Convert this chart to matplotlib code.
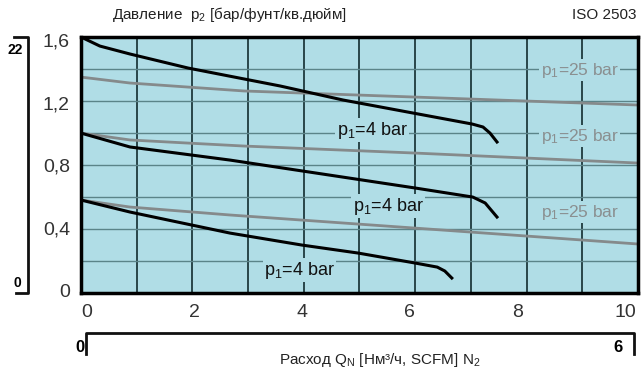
import numpy as np
import matplotlib.pyplot as plt
from matplotlib.lines import Line2D

# === DATA ===
flow_ticks = [0, 2, 4, 6, 8, 10]
pressure_ticks = [0, 0.4, 0.8, 1.2, 1.6]
pressure_labels = ['0', '0,4', '0,8', '1,2', '1,6']

# p1 = 4 bar curves (black)
hi4_q = [-0.11, 0.24, 0.80, 1.88, 2.92, 3.59, 4.76, 7.16, 7.36, 7.49, 7.62]
hi4_p = [1.622, 1.564, 1.513, 1.423, 1.353, 1.308, 1.218, 1.064, 1.045, 1.006, 0.949]
mid4_q = [-0.11, 0.80, 2.66, 6.10, 7.17, 7.40, 7.62]
mid4_p = [1.006, 0.917, 0.833, 0.654, 0.596, 0.558, 0.468]
low4_q = [-0.11, 0.80, 2.66, 4.00, 5.04, 6.10, 6.51, 6.65, 6.78]
low4_p = [0.577, 0.500, 0.365, 0.288, 0.237, 0.173, 0.147, 0.122, 0.077]

# p1 = 25 bar curves (grey)
hi25_q = [-0.11, 0.80, 1.88, 2.92, 10.24]
hi25_p = [1.365, 1.327, 1.301, 1.276, 1.186]
mid25_q = [-0.11, 0.80, 1.88, 2.92, 6.10, 10.24]
mid25_p = [1.006, 0.962, 0.942, 0.923, 0.878, 0.814]
low25_q = [-0.11, 0.80, 2.66, 6.10, 10.24]
low25_p = [0.577, 0.532, 0.481, 0.397, 0.295]

# curve labels: (q, p, text)
labels4 = [(5.3, 1.025, 'p$_1$=4 bar'), (5.6, 0.538, 'p$_1$=4 bar'), (3.95, 0.128, 'p$_1$=4 bar')]
labels25 = [(9.16, 1.41, 'p$_1$=25 bar'), (9.16, 0.985, 'p$_1$=25 bar'), (9.16, 0.50, 'p$_1$=25 bar')]

# === STYLE ===
sans = ['Liberation Sans', 'DejaVu Sans']
plt.rcParams['mathtext.fontset'] = 'custom'
plt.rcParams['mathtext.rm'] = 'Liberation Sans'
plt.rcParams['mathtext.it'] = 'Liberation Sans'
bg = '#b0dde6'
W, H = 643, 378

fig = plt.figure(figsize=(W / 100, H / 100), dpi=100)
ax = fig.add_axes([81 / W, 1 - 293 / H, (638 - 81) / W, (293 - 37) / H])
ax.set_facecolor(bg)
ax.set_xlim(-0.11, 10.24)
ax.set_ylim(-0.019, 1.622)

# grid splits the box evenly, independent of the label scale
xl, yl = ax.get_xlim(), ax.get_ylim()
for gx in np.linspace(xl[0], xl[1], 11)[1:-1]:
    ax.axvline(gx, color='#1e3a3d', lw=1.3, zorder=1)
for gy in np.linspace(yl[0], yl[1], 9)[1:-1]:
    ax.axhline(gy, color='#5b8489', lw=1.0, zorder=1)

ax.plot(hi25_q, hi25_p, color='#858a8b', lw=2.0, zorder=2)
ax.plot(mid25_q, mid25_p, color='#858a8b', lw=2.0, zorder=2)
ax.plot(low25_q, low25_p, color='#858a8b', lw=2.0, zorder=2)
ax.plot(hi4_q, hi4_p, color='black', lw=2.2, zorder=3)
ax.plot(mid4_q, mid4_p, color='black', lw=2.2, zorder=3)
ax.plot(low4_q, low4_p, color='black', lw=2.2, zorder=3)

for q, p, t in labels4:
    ax.text(q, p, t, ha='center', va='center', fontsize=13, family=sans, color='#111111',
            bbox=dict(facecolor=bg, edgecolor='none', pad=1.0), zorder=4)
for q, p, t in labels25:
    ax.text(q, p, t, ha='center', va='center', fontsize=12.5, family=sans, color='#8a8f90',
            bbox=dict(facecolor=bg, edgecolor='none', pad=1.0), zorder=4)

ax.set_xticks(flow_ticks)
ax.set_xticklabels([str(v) for v in flow_ticks], family=sans, fontsize=14, color='#333333')
ax.set_yticks(pressure_ticks)
ax.set_yticklabels(pressure_labels, family=sans, fontsize=14, color='#333333')
ax.tick_params(length=0, pad=8)
for s in ax.spines.values():
    s.set_linewidth(2.5)
    s.set_color('black')

# titles
fig.text(112 / W, 1 - 15 / H, 'Давление  p$_2$ [бар/фунт/кв.дюйм]', fontsize=11,
         family=sans, va='center', ha='left', color='#222222')
fig.text(637 / W, 1 - 15 / H, 'ISO 2503', fontsize=11,
         family=sans, va='center', ha='right', color='#222222')
fig.text(380 / W, 1 - 360 / H, 'Расход Q$_\\mathrm{N}$ [Нм³/ч, SCFM] N$_2$', fontsize=11,
         family=sans, va='center', ha='center', color='#222222')


def px_line(xs, ys, lw=2.0):
    fig.add_artist(Line2D([x / W for x in xs], [1 - y / H for y in ys],
                          color='#111111', lw=lw, transform=fig.transFigure))


# secondary scale brackets (psi left, SCFM bottom)
px_line([14, 28, 28, 16], [37, 37, 293, 293])
px_line([86, 86, 634, 634], [354, 333, 333, 354])
fig.text(15 / W, 1 - 50 / H, '22', fontsize=10, fontweight='bold', family=sans, ha='center', va='center')
fig.text(17 / W, 1 - 283 / H, '0', fontsize=10, fontweight='bold', family=sans, ha='center', va='center')
fig.text(80 / W, 1 - 347 / H, '0', fontsize=12, fontweight='bold', family=sans, ha='center', va='center')
fig.text(618 / W, 1 - 347 / H, '6', fontsize=12, fontweight='bold', family=sans, ha='center', va='center')

fig.savefig('out.png', dpi=100)
